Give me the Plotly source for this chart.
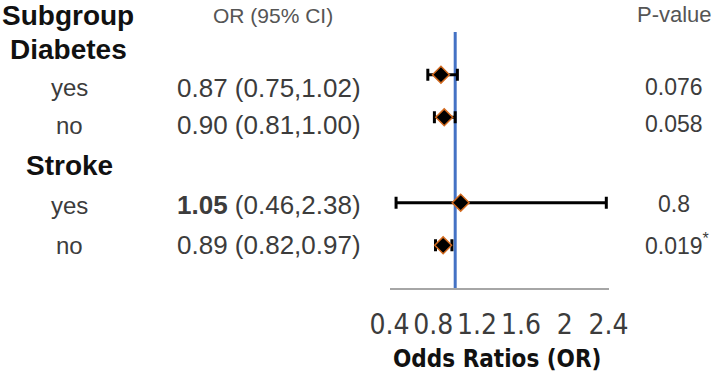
import plotly.graph_objects as go

# ---- data ----
group_names = ["Diabetes", "Stroke"]
subgroup_labels = ["yes", "no", "yes", "no"]
subgroup_group = [0, 0, 1, 1]
or_values = [0.87, 0.90, 1.05, 0.89]
ci_lower = [0.75, 0.81, 0.46, 0.82]
ci_upper = [1.02, 1.00, 2.38, 0.97]
p_values = ["0.076", "0.058", "0.8", "0.019"]
p_significant = [False, False, False, True]
or_bold = [False, False, True, False]
x_ticks = [0.4, 0.8, 1.2, 1.6, 2, 2.4]
x_tick_labels = ["0.4", "0.8", "1.2", "1.6", "2", "2.4"]
ref_value = 1.0

W, H = 718, 373

rows = []
for gi, g in enumerate(group_names):
    rows.append(("header", gi))
    for si, sg in enumerate(subgroup_group):
        if sg == gi:
            rows.append(("sub", si))
n_rows = len(rows)
sub_y = {}
for idx, (kind, i) in enumerate(rows):
    if kind == "sub":
        sub_y[i] = n_rows - idx
ys = [sub_y[i] for i in range(len(or_values))]

fig = go.Figure()
fig.add_trace(go.Scatter(
    x=or_values, y=ys, mode="markers",
    marker=dict(symbol="diamond", size=13, color="black",
                line=dict(color="#D2691E", width=1.5)),
    error_x=dict(type="data", symmetric=False,
                 array=[u - o for u, o in zip(ci_upper, or_values)],
                 arrayminus=[o - l for l, o in zip(ci_lower, or_values)],
                 color="black", thickness=3, width=6),
    showlegend=False, hoverinfo="skip",
))

fig.add_shape(type="line", xref="x", yref="y", x0=ref_value, x1=ref_value,
              y0=0, y1=n_rows, line=dict(color="#4472C4", width=3), layer="below")

def px(x):
    return x / W

def py(y):
    return 1 - y / H

TXT = "#3c3c3c"
BODY = "Liberation Sans, Arial, sans-serif"
COND = "DejaVu Sans Condensed, Liberation Sans, sans-serif"

ann = []
def add(text, x, y, size, xanchor="center", color=TXT, family=BODY):
    ann.append(dict(text=text, x=px(x), y=py(y), xref="paper", yref="paper",
                    xanchor=xanchor, yanchor="middle", showarrow=False,
                    font=dict(size=size, color=color, family=family)))

add("<b>Subgroup</b>", 0, 15, 28, xanchor="left", color="#111111")
add("OR (95% CI)", 273, 15, 21, color="#555555")
add("P-value", 674, 14, 22, color="#555555")

header_y = [50, 165]
header_x = [8, 24]
sub_text_y = [88, 125, 205, 245]
for gi, g in enumerate(group_names):
    add("<b>%s</b>" % g, header_x[gi], header_y[gi], 28, xanchor="left", color="#111111")
for i, lab in enumerate(subgroup_labels):
    add(lab, 69, sub_text_y[i], 24)
    o = "%.2f" % or_values[i]
    if or_bold[i]:
        o = "<b>%s</b>" % o
    add("%s (%.2f,%.2f)" % (o, ci_lower[i], ci_upper[i]), 269, sub_text_y[i], 26)
    p = p_values[i] + ("<sup>*</sup>" if p_significant[i] else "")
    add(p, 677 if p_significant[i] else 674, sub_text_y[i] - 1, 23)

add("<b>Odds Ratios (OR)</b>", 497, 359, 24, color="#111111", family=COND)

fig.update_layout(
    width=W, height=H,
    margin=dict(l=0, r=0, t=0, b=0, pad=0, autoexpand=False),
    paper_bgcolor="white", plot_bgcolor="white",
    annotations=ann,
    xaxis=dict(domain=[px(389.5), px(608.5)], range=[0.4, 2.4],
               tickvals=x_ticks, ticktext=x_tick_labels,
               showline=True, linecolor="#A6A6A6", linewidth=2,
               showgrid=False, zeroline=False, ticks="", automargin=False,
               ticklabelstandoff=10,
               tickfont=dict(size=28, color=TXT, family=COND)),
    yaxis=dict(domain=[py(288), py(32)], range=[0, n_rows],
               visible=False, automargin=False),
)

# remove the browser's default 8px page margin so the figure fills the window
fig.write_html("out.html", config={"displayModeBar": False},
               post_script="document.body.style.margin='0px';")
